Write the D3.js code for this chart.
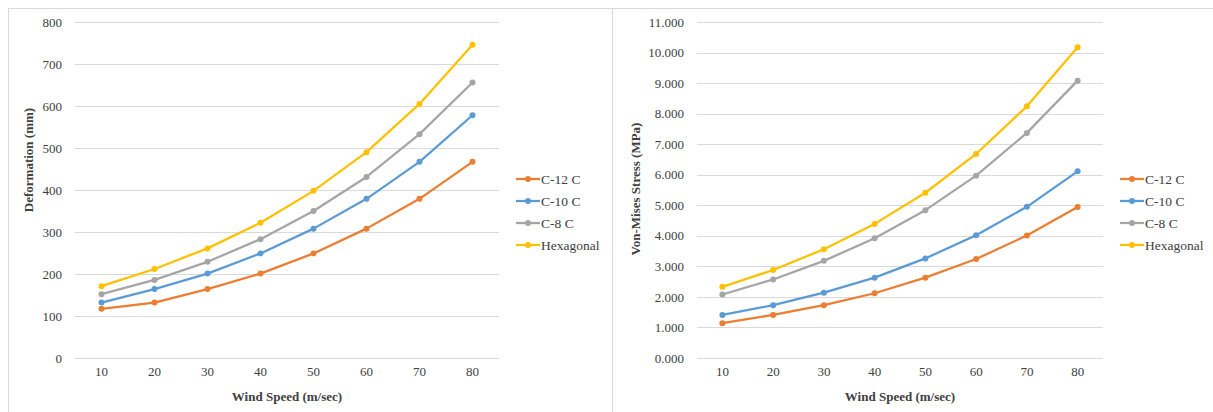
<!DOCTYPE html>
<html>
<head>
<meta charset="utf-8">
<script src="https://cdn.jsdelivr.net/npm/d3@7"></script>
<style>
  html, body { margin: 0; padding: 0; background: #fff; }
  svg { display: block; }
  text { font-family: "Liberation Serif", "Times New Roman", serif; fill: #404040; }
</style>
</head>
<body>
<svg id="chart" width="1213" height="412"></svg>
<script>
const windSpeeds = [10, 20, 30, 40, 50, 60, 70, 80];
const seriesNames = ["C-12 C", "C-10 C", "C-8 C", "Hexagonal"];
const seriesColors = ["#ED7D31", "#5B9BD5", "#A5A5A5", "#FFC000"];

// Deformation (mm)
const defC12 = [117, 132, 164, 201, 249, 308, 379, 467];
const defC10 = [132, 164, 201, 249, 308, 379, 467, 578];
const defC8  = [152, 186, 229, 283, 350, 431, 533, 656];
const defHex = [171, 212, 261, 322, 398, 490, 605, 746];
const defTicks = [0, 100, 200, 300, 400, 500, 600, 700, 800];

// Von-Mises Stress (MPa)
const vmC12 = [1.14, 1.41, 1.73, 2.12, 2.63, 3.24, 4.01, 4.94];
const vmC10 = [1.41, 1.73, 2.14, 2.63, 3.26, 4.02, 4.95, 6.11];
const vmC8  = [2.08, 2.57, 3.18, 3.92, 4.84, 5.97, 7.37, 9.08];
const vmHex = [2.33, 2.88, 3.56, 4.39, 5.41, 6.68, 8.24, 10.17];
const vmTicks = [0, 1, 2, 3, 4, 5, 6, 7, 8, 9, 10, 11];

const svg = d3.select("#chart");
const serif = '"Liberation Serif", "Times New Roman", serif';

// panel borders
const borderColor = "#d9d9d9";
svg.append("line").attr("x1", 8).attr("x2", 1213).attr("y1", 8.5).attr("y2", 8.5).attr("stroke", borderColor);
svg.append("line").attr("x1", 8.5).attr("x2", 8.5).attr("y1", 8).attr("y2", 412).attr("stroke", borderColor);
svg.append("line").attr("x1", 612.5).attr("x2", 612.5).attr("y1", 8).attr("y2", 412).attr("stroke", borderColor);

function drawChart(cfg) {
  const g = svg.append("g");
  const x = d3.scaleBand().domain(windSpeeds).range([cfg.x0, cfg.x1]);
  const y = d3.scaleLinear().domain([cfg.ticks[0], cfg.ticks[cfg.ticks.length - 1]]).range([cfg.yBottom, cfg.yTop]);

  // gridlines
  g.append("g").selectAll("line").data(cfg.ticks).join("line")
    .attr("x1", cfg.x0).attr("x2", cfg.x1)
    .attr("y1", d => Math.round(y(d)) + 0.5).attr("y2", d => Math.round(y(d)) + 0.5)
    .attr("stroke", "#d9d9d9").attr("stroke-width", 1);

  // y axis labels
  const yAxis = d3.axisLeft(y).tickValues(cfg.ticks).tickFormat(cfg.fmt).tickSize(0).tickPadding(0);
  const ya = g.append("g").attr("transform", `translate(${cfg.yLabelX},0)`).call(yAxis)
    .attr("font-family", serif).attr("font-size", 13);
  ya.select(".domain").remove();
  ya.selectAll("text").style("font-family", serif).style("font-size", "13px").attr("fill", "#595959");

  // x axis labels
  const xAxis = d3.axisBottom(x).tickSize(0).tickPadding(0);
  const xa = g.append("g").attr("transform", `translate(0,${cfg.yBottom + 9})`).call(xAxis)
    .attr("font-family", serif).attr("font-size", 13);
  xa.select(".domain").remove();
  xa.selectAll("text").style("font-family", serif).style("font-size", "13px").attr("fill", "#595959");

  // axis titles
  g.append("text").attr("x", (cfg.x0 + cfg.x1) / 2).attr("y", 401)
    .attr("text-anchor", "middle").style("font-size", "13px").style("font-weight", "bold").attr("fill", "#404040")
    .text("Wind Speed (m/sec)");
  g.append("text").attr("transform", `translate(${cfg.yTitleX},${cfg.yTitleY}) rotate(-90)`)
    .attr("text-anchor", "middle").style("font-size", "13px").style("font-weight", "bold").attr("fill", "#404040")
    .text(cfg.yTitle);

  // lines
  const line = d3.line().x((d, i) => x(windSpeeds[i]) + x.bandwidth() / 2).y(d => y(d));
  cfg.series.forEach((vals, si) => {
    g.append("path").datum(vals).attr("d", line)
      .attr("fill", "none").attr("stroke", seriesColors[si]).attr("stroke-width", 2.25)
      .attr("stroke-linejoin", "round").attr("stroke-linecap", "round");
    g.append("g").selectAll("circle").data(vals).join("circle")
      .attr("cx", (d, i) => x(windSpeeds[i]) + x.bandwidth() / 2)
      .attr("cy", d => y(d)).attr("r", 3).attr("fill", seriesColors[si]);
  });

  // legend
  const lg = g.append("g").attr("transform", `translate(${cfg.legendX},179)`);
  seriesNames.forEach((name, i) => {
    const row = lg.append("g").attr("transform", `translate(0,${i * 22})`);
    row.append("line").attr("x1", 0).attr("x2", 24).attr("y1", 0).attr("y2", 0)
      .attr("stroke", seriesColors[i]).attr("stroke-width", 2.25);
    row.append("circle").attr("cx", 12).attr("cy", 0).attr("r", 3).attr("fill", seriesColors[i]);
    row.append("text").attr("x", 25).attr("y", 0).attr("dy", "0.35em")
      .style("font-size", "13.5px").attr("fill", "#404040").text(name);
  });
}

drawChart({
  x0: 75, x1: 499, yTop: 22, yBottom: 358,
  ticks: defTicks, fmt: d3.format("d"),
  yLabelX: 62, yTitleX: 33, yTitleY: 160, yTitle: "Deformation (mm)",
  series: [defC12, defC10, defC8, defHex], legendX: 516
});

drawChart({
  x0: 697, x1: 1103, yTop: 22, yBottom: 358,
  ticks: vmTicks, fmt: d3.format(".3f"),
  yLabelX: 684, yTitleX: 640, yTitleY: 189, yTitle: "Von-Mises Stress (MPa)",
  series: [vmC12, vmC10, vmC8, vmHex], legendX: 1120
});
</script>
</body>
</html>
